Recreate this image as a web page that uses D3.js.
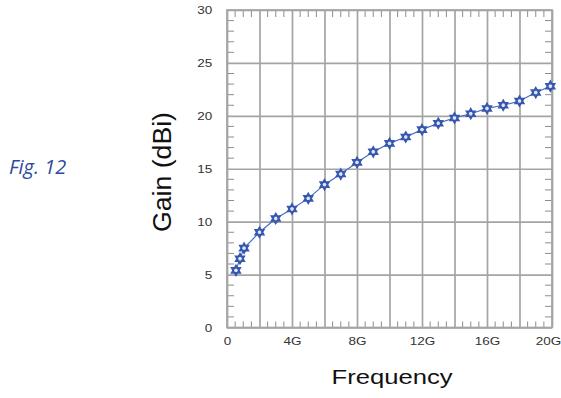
<!DOCTYPE html>
<html><head><meta charset="utf-8">
<script src="https://cdn.jsdelivr.net/npm/d3@7"></script>
<style>
html,body{margin:0;padding:0;background:#fff;}
svg{display:block;}
</style></head>
<body>
<svg id="c" width="561" height="398"></svg>
<script>
const freqGHz = [0.55, 0.8, 1.05, 2, 3, 4, 5, 6, 7, 8, 9, 10, 11, 12, 13, 14, 15, 16, 17, 18, 19, 19.9];
const gainDBi = [5.4, 6.5, 7.5, 9.0, 10.3, 11.2, 12.2, 13.5, 14.5, 15.6, 16.6, 17.4, 18.0, 18.7, 19.3, 19.8, 20.2, 20.7, 21.0, 21.4, 22.2, 22.8];
const xTickValues = [0, 4, 8, 12, 16, 20];
const xTickLabels = ["0", "4G", "8G", "12G", "16G", "20G"];
const yTickValues = [0, 5, 10, 15, 20, 25, 30];
const xTitle = "Frequency";
const yTitle = "Gain (dBi)";
const figLabel = "Fig. 12";

const svg = d3.select("#c");
const L = 227, R = 552, T = 10, B = 327.5;
const x = d3.scaleLinear().domain([0, 20]).range([L, R]);
const y = d3.scaleLinear().domain([0, 30]).range([B, T]);
const gridCol = "#a4a4a4";

// minor ticks
const g = svg.append("g");
const xMinor = d3.range(0, 20.001, 0.5).filter(v => Math.abs(v/2 - Math.round(v/2)) > 1e-6);
const yMinor = d3.range(0, 30.001, 1).filter(v => v % 5 !== 0);
g.selectAll(".mxb").data(xMinor).join("line")
  .attr("x1", d => x(d)).attr("x2", d => x(d)).attr("y1", B).attr("y2", B - 6)
  .attr("stroke", "#8c8c8c").attr("stroke-width", 1);
g.selectAll(".mxt").data(xMinor).join("line")
  .attr("x1", d => x(d)).attr("x2", d => x(d)).attr("y1", T).attr("y2", T + 7)
  .attr("stroke", "#8c8c8c").attr("stroke-width", 1);
g.selectAll(".myl").data(yMinor).join("line")
  .attr("x1", L).attr("x2", L + 7).attr("y1", d => y(d)).attr("y2", d => y(d))
  .attr("stroke", "#8c8c8c").attr("stroke-width", 1);
g.selectAll(".myr").data(yMinor).join("line")
  .attr("x1", R).attr("x2", R - 7).attr("y1", d => y(d)).attr("y2", d => y(d))
  .attr("stroke", "#8c8c8c").attr("stroke-width", 1);

// grid via axes
const xGrid = svg.append("g").attr("transform", `translate(0,${B})`)
  .call(d3.axisBottom(x).tickValues(d3.range(0, 20.001, 2)).tickSize(-(B - T)).tickFormat(""));
const yGrid = svg.append("g").attr("transform", `translate(${L},0)`)
  .call(d3.axisLeft(y).tickValues(yTickValues).tickSize(-(R - L)).tickFormat(""));
[xGrid, yGrid].forEach(a => {
  a.select(".domain").remove();
  a.selectAll("line").attr("stroke", gridCol).attr("stroke-width", 1.7);
});
svg.append("rect").attr("x", L).attr("y", T).attr("width", R - L).attr("height", B - T)
  .attr("fill", "none").attr("stroke", gridCol).attr("stroke-width", 1.7);

// tick labels
const xAx = svg.append("g").attr("transform", `translate(0,${B})`)
  .call(d3.axisBottom(x).tickValues(xTickValues).tickSize(0).tickPadding(0)
    .tickFormat((d, i) => xTickLabels[i]));
xAx.select(".domain").remove();
xAx.selectAll("text").attr("font-family", "Liberation Sans, Arial, sans-serif")
  .attr("font-size", 10).attr("fill", "#333").attr("dy", null).attr("y", 18)
  .attr("transform", function(d){ return `translate(${x(d)},0) scale(1.35,1) translate(${-x(d)},0)`; })
  .each(function(d){ d3.select(this).attr("x", x(d) - x(d)); });
xAx.selectAll(".tick").each(function(d, i){
  const t = d3.select(this).select("text");
  t.attr("transform", `scale(1.35,1)`);
  if (i === xTickValues.length - 1) t.attr("x", -3);
});

const yAx = svg.append("g").attr("transform", `translate(${L},0)`)
  .call(d3.axisLeft(y).tickValues(yTickValues).tickSize(0).tickPadding(0));
yAx.select(".domain").remove();
yAx.selectAll("text").attr("font-family", "Liberation Sans, Arial, sans-serif")
  .attr("font-size", 10).attr("fill", "#333").attr("x", -11)
  .attr("transform", "scale(1.35,1)").attr("dy", "0.35em");

// line + markers
const line = d3.line().x((d, i) => x(freqGHz[i])).y(d => y(d));
svg.append("path").datum(gainDBi).attr("d", line)
  .attr("fill", "none").attr("stroke", "#4a6cc4").attr("stroke-width", 1.2);

function hexagram(r) {
  const tri = a0 => d3.range(3).map(k => {
    const a = (a0 + k * 120) * Math.PI / 180;
    return [r * Math.cos(a), r * Math.sin(a)];
  });
  const p = pts => "M" + pts.map(q => q.join(",")).join("L") + "Z";
  return p(tri(-90)) + p(tri(90));
}
svg.append("g").selectAll("path").data(gainDBi).join("path")
  .attr("transform", (d, i) => `translate(${x(freqGHz[i])},${y(d)})`)
  .attr("d", hexagram(5))
  .attr("fill", "#dfe6f7").attr("stroke", "#3557ad").attr("stroke-width", 1.6)
  .attr("stroke-linejoin", "miter");

// titles
svg.append("text").attr("x", 392).attr("y", 384).attr("text-anchor", "middle")
  .attr("font-family", "Liberation Sans, Arial, sans-serif").attr("font-size", 20)
  .attr("textLength", 121).attr("lengthAdjust", "spacingAndGlyphs")
  .attr("fill", "#111").text(xTitle);
svg.append("text").attr("transform", "translate(171,172) rotate(-90)").attr("text-anchor", "middle")
  .attr("font-family", "Liberation Sans, Arial, sans-serif").attr("font-size", 25)
  .attr("textLength", 120).attr("lengthAdjust", "spacingAndGlyphs")
  .attr("fill", "#111").text(yTitle);
svg.append("text").attr("x", 9).attr("y", 174)
  .attr("font-family", "Open Sans, sans-serif").attr("font-style", "italic").attr("font-size", 20)
  .attr("fill", "#2f4a9c").text(figLabel);
</script>
</body></html>
